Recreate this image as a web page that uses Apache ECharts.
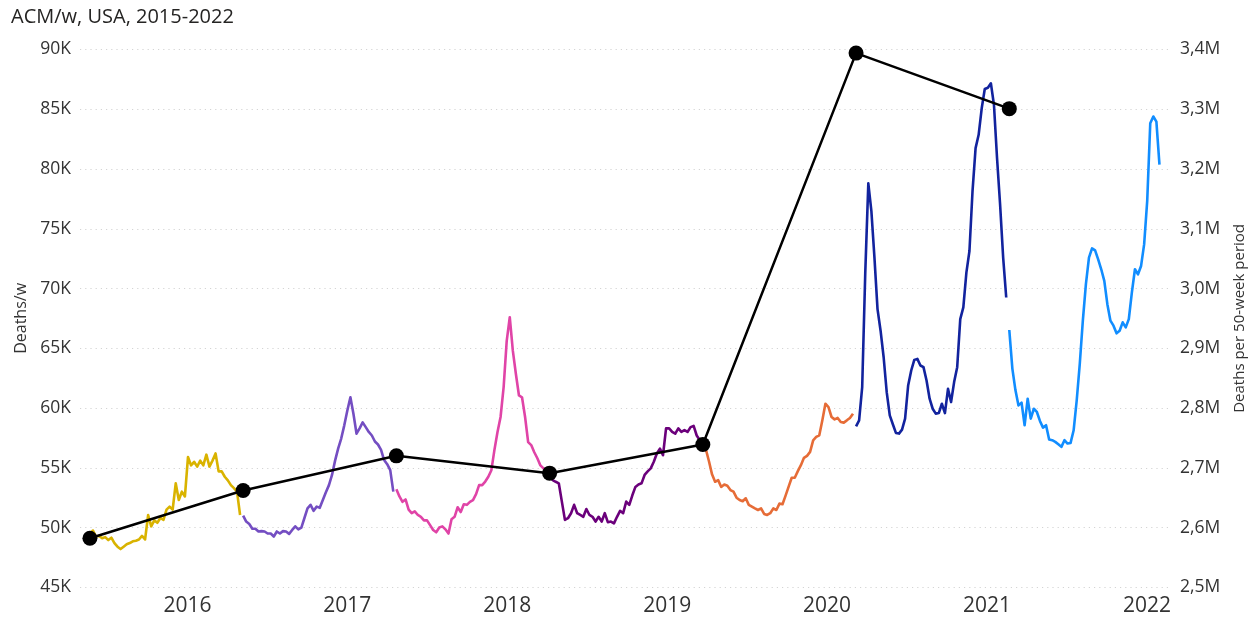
<!DOCTYPE html>
<html>
<head>
<meta charset="utf-8">
<title>ACM/w, USA, 2015-2022</title>
<script src="https://cdn.jsdelivr.net/npm/echarts@6/dist/echarts.min.js"></script>
<style>
  html, body { margin: 0; padding: 0; background: #ffffff; }
  #chart { width: 1251px; height: 618px; }
</style>
</head>
<body>
<div id="chart"></div>
<script>
// All-cause mortality per week in the USA, split into consecutive 50-week periods.
const titleText = 'ACM/w, USA, 2015-2022';
const leftAxisName = 'Deaths/w';
const rightAxisName = 'Deaths per 50-week period';

// Decimal year of the first weekly observation; each period holds 50 weeks.
const firstWeekYear = 2015.39;
const weeksPerPeriod = 50;
const daysPerYear = 365.25;

// Year tick labels on the horizontal axis.
const yearTicks = [2016, 2017, 2018, 2019, 2020, 2021, 2022];

// Weekly deaths (thousands) per 50-week period.
const period1 = [49.5, 49.75, 49.25, 49.3, 49.1, 49.2, 48.95, 49.15, 48.7, 48.4,
  48.2, 48.4, 48.6, 48.7, 48.85, 48.9, 49.0, 49.3, 49.0, 51.05,
  50.1, 50.6, 50.4, 50.8, 50.65, 51.5, 51.75, 51.5, 53.7, 52.3,
  53.0, 52.6, 55.9, 55.2, 55.5, 55.1, 55.6, 55.2, 56.1, 55.1,
  55.6, 56.2, 54.7, 54.7, 54.25, 53.95, 53.55, 53.3, 53.0, 51.05];
const period2 = [51.0, 50.5, 50.3, 49.9, 49.9, 49.67, 49.7, 49.67, 49.5, 49.5,
  49.25, 49.67, 49.5, 49.7, 49.67, 49.47, 49.8, 50.1, 49.85, 50.0,
  50.8, 51.6, 51.9, 51.4, 51.75, 51.65, 52.3, 52.95, 53.55, 54.4,
  55.6, 56.6, 57.45, 58.55, 59.8, 60.9, 59.5, 57.85, 58.3, 58.8,
  58.4, 58.0, 57.7, 57.2, 56.95, 56.5, 55.65, 55.3, 54.8, 53.0];
const period3 = [53.2, 52.6, 52.15, 52.35, 51.5, 51.2, 51.35, 51.05, 50.9, 50.6,
  50.6, 50.2, 49.8, 49.6, 50.0, 50.1, 49.85, 49.5, 50.7, 50.9,
  51.7, 51.3, 51.95, 51.9, 52.15, 52.3, 52.8, 53.55, 53.55, 53.85,
  54.25, 54.8, 56.5, 58.0, 59.25, 61.75, 65.6, 67.6, 64.8, 62.85,
  61.05, 60.9, 59.25, 57.15, 56.9, 56.3, 55.8, 55.2, 54.95, 54.8];
const period4 = [54.5, 53.97, 53.83, 53.7, 52.17, 50.64, 50.78, 51.2, 51.9, 51.2,
  51.05, 50.9, 51.55, 51.05, 50.9, 50.5, 50.9, 50.5, 51.2, 50.45,
  50.5, 50.35, 50.9, 51.4, 51.2, 52.17, 51.9, 52.7, 53.4, 53.6,
  53.7, 54.4, 54.7, 54.95, 55.5, 56.2, 56.6, 56.05, 58.3, 58.3,
  58.0, 57.85, 58.3, 58.0, 58.15, 58.0, 58.4, 58.5, 57.7, 57.3];
const period5 = [57.03, 56.53, 55.55, 54.45, 53.83, 53.97, 53.4, 53.6, 53.5, 53.14,
  53.0, 52.5, 52.3, 52.2, 52.45, 51.9, 51.75, 51.6, 51.47, 51.6,
  51.14, 51.05, 51.2, 51.6, 51.47, 52.0, 51.95, 52.67, 53.42, 54.17,
  54.17, 54.72, 55.22, 55.83, 56.0, 56.33, 57.3, 57.58, 57.72, 58.97,
  60.36, 60.08, 59.25, 59.05, 59.17, 58.83, 58.78, 58.97, 59.17, 59.53];
const period6 = [58.47, 58.97, 61.75, 71.3, 78.8, 76.47, 72.58, 68.28, 66.47, 64.25,
  61.33, 59.39, 58.64, 57.92, 57.86, 58.19, 59.11, 61.89, 63.14, 64.03,
  64.11, 63.56, 63.42, 62.31, 60.78, 59.94, 59.53, 59.58, 60.36, 59.58,
  61.61, 60.5, 62.17, 63.42, 67.44, 68.42, 71.33, 73.14, 78.14, 81.75,
  82.86, 85.08, 86.69, 86.8, 87.17, 85.36, 80.92, 77.03, 72.58, 69.25];
const period7 = [66.53, 63.3, 61.5, 60.22, 60.45, 58.56, 60.78, 59.11, 59.94, 59.67,
  58.92, 58.36, 58.56, 57.36, 57.31, 57.17, 56.97, 56.75, 57.31, 57.03,
  57.08, 58.14, 60.64, 63.69, 67.31, 70.36, 72.58, 73.36, 73.19, 72.44,
  71.61, 70.64, 68.69, 67.31, 66.89, 66.25, 66.47, 67.17, 66.75, 67.44,
  69.67, 71.61, 71.19, 71.89, 73.69, 77.31, 83.83, 84.39, 83.97, 80.36];

const periods = [period1, period2, period3, period4, period5, period6, period7];
const periodNames = ['P1', 'P2', 'P3', 'P4', 'P5', 'P6', 'P7'];
const periodColors = ['#D9B300', '#744EC2', '#E044A7', '#6B007B', '#E66C37', '#12239E', '#118DFF'];

// Total deaths (thousands) in each 50-week period, plotted at the period's first week.
const periodTotals = [2582, 2662, 2720, 2691, 2739, 3394, 3301];

// Decimal year of a week counted from the first observation.
function weekToYear(week) {
  return firstWeekYear + week * 7 / daysPerYear;
}

const fontFamily = '"Open Sans", "Noto Sans", sans-serif';
const textColor = '#333333';

const weeklySeries = periods.map(function (values, p) {
  return {
    name: periodNames[p],
    type: 'line',
    yAxisIndex: 0,
    showSymbol: false,
    symbol: 'none',
    z: 2,
    lineStyle: { width: 2.6, color: periodColors[p], join: 'round' },
    itemStyle: { color: periodColors[p] },
    data: values.map(function (v, j) {
      return [weekToYear(p * weeksPerPeriod + j), v];
    })
  };
});

const totalsSeries = {
  name: rightAxisName,
  type: 'line',
  yAxisIndex: 1,
  symbol: 'circle',
  symbolSize: 15,
  z: 5,
  lineStyle: { width: 2.5, color: '#000000' },
  itemStyle: { color: '#000000' },
  data: periodTotals.map(function (v, p) {
    return [weekToYear(p * weeksPerPeriod), v];
  })
};

const gridLine = { show: true, lineStyle: { type: [1.2, 4], color: '#d4d4d4', width: 1 } };

const option = {
  animation: false,
  backgroundColor: '#ffffff',
  title: {
    text: titleText,
    left: 11,
    top: 7,
    padding: 0,
    textStyle: { fontFamily: fontFamily, fontSize: 20, fontWeight: 'normal', color: '#252423' }
  },
  grid: { left: 80, right: 83, top: 49.5, bottom: 30.7, outerBoundsMode: 'none', containLabel: false },
  xAxis: {
    type: 'value',
    min: 2015.328,
    max: 2022.132,
    axisLine: { show: false },
    axisTick: { show: false },
    splitLine: { show: false },
    axisLabel: {
      customValues: yearTicks,
      formatter: function (v) { return String(Math.round(v)); },
      fontFamily: fontFamily,
      fontSize: 21,
      color: textColor,
      margin: 8
    }
  },
  yAxis: [
    {
      type: 'value',
      position: 'left',
      min: 45,
      max: 90,
      interval: 5,
      name: leftAxisName,
      nameLocation: 'middle',
      nameRotate: 90,
      nameGap: 50,
      nameTextStyle: { fontFamily: fontFamily, fontSize: 16, color: textColor },
      axisLine: { show: false },
      axisTick: { show: false },
      splitLine: gridLine,
      axisLabel: {
        formatter: function (v) { return v + 'K'; },
        fontFamily: fontFamily,
        fontSize: 17.5,
        color: textColor,
        margin: 9
      }
    },
    {
      type: 'value',
      position: 'right',
      min: 2500,
      max: 3400,
      interval: 100,
      name: rightAxisName,
      nameLocation: 'middle',
      nameRotate: 90,
      nameGap: 64,
      nameTextStyle: { fontFamily: fontFamily, fontSize: 15, color: textColor },
      axisLine: { show: false },
      axisTick: { show: false },
      splitLine: { show: false },
      axisLabel: {
        formatter: function (v) { return (v / 1000).toFixed(1).replace('.', ',') + 'M'; },
        fontFamily: fontFamily,
        fontSize: 17.5,
        color: textColor,
        margin: 12
      }
    }
  ],
  series: weeklySeries.concat([totalsSeries])
};

const chart = echarts.init(document.getElementById('chart'), null, { renderer: 'canvas' });
chart.setOption(option);
</script>
</body>
</html>
